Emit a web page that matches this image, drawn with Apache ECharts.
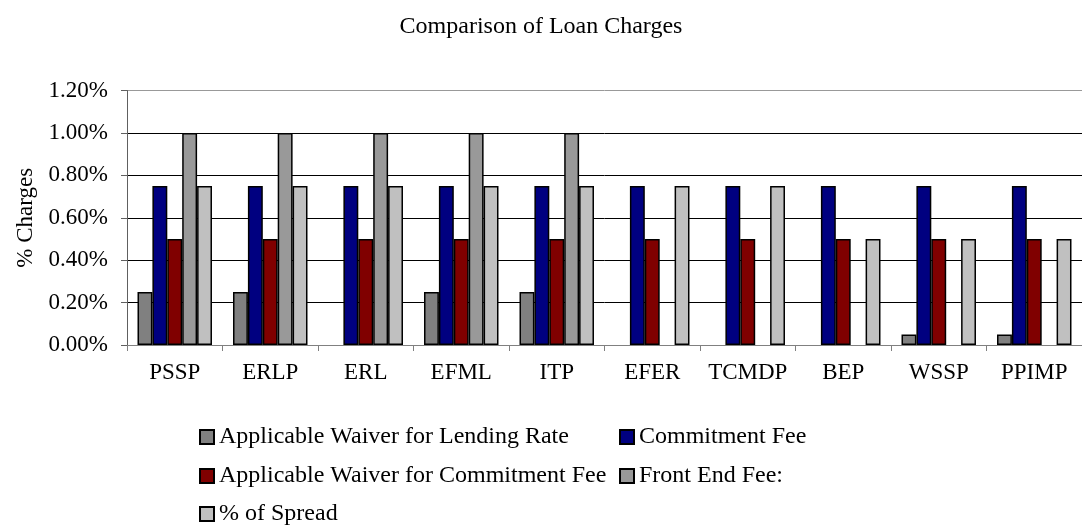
<!DOCTYPE html>
<html>
<head>
<meta charset="utf-8">
<script src="https://cdn.jsdelivr.net/npm/echarts@6/dist/echarts.min.js"></script>
<style>
  html, body { margin: 0; padding: 0; background: #fff; }
  #chart { width: 1082px; height: 525px; }
</style>
</head>
<body>
<div id="chart"></div>
<script>
// 数据
const categories = ['PSSP', 'ERLP', 'ERL', 'EFML', 'ITP', 'EFER', 'TCMDP', 'BEP', 'WSSP', 'PPIMP']
const waiverLending = [0.25, 0.25, 0, 0.25, 0.25, 0, 0, 0, 0.05, 0.05]
const commitmentFee = [0.75, 0.75, 0.75, 0.75, 0.75, 0.75, 0.75, 0.75, 0.75, 0.75]
const waiverCommitment = [0.5, 0.5, 0.5, 0.5, 0.5, 0.5, 0.5, 0.5, 0.5, 0.5]
const frontEndFee = [1, 1, 1, 1, 1, 0, 0, 0, 0, 0]
const spread = [0.75, 0.75, 0.75, 0.75, 0.75, 0.75, 0.75, 0.5, 0.5, 0.5]
const seriesNames = ['Applicable Waiver for Lending Rate', 'Commitment Fee',
  'Applicable Waiver for Commitment Fee', 'Front End Fee:', '% of Spread']
const seriesColors = ['#808080', '#000080', '#800000', '#999999', '#c0c0c0']
const seriesData = [waiverLending, commitmentFee, waiverCommitment, frontEndFee, spread]

const font = 'Liberation Serif, Times New Roman, serif'

const chart = echarts.init(document.getElementById('chart'))

// 图例位置（两列）
const legendPos = [[199, 425], [619, 425], [199, 464], [619, 464], [199, 502]]

const option = {
  animation: false,
  title: {
    text: 'Comparison of Loan Charges',
    left: 'center',
    top: 10,
    textStyle: { fontFamily: font, fontSize: 24, fontWeight: 'normal', color: '#000' }
  },
  legend: seriesNames.map((name, i) => ({
    data: [name],
    left: legendPos[i][0],
    top: legendPos[i][1],
    padding: 0,
    itemWidth: 14,
    itemHeight: 14,
    icon: 'rect',
    selectedMode: false,
    textStyle: { fontFamily: font, fontSize: 24, color: '#000', lineHeight: 24 }
  })),
  grid: {
    left: 127,
    right: -12,
    top: 90.5,
    bottom: 180
  },
  xAxis: {
    type: 'category',
    data: categories,
    axisLine: { lineStyle: { color: '#808080' } },
    axisTick: { show: true, length: 6, lineStyle: { color: '#808080' } },
    axisLabel: { fontFamily: font, fontSize: 23, color: '#000', margin: 16, interval: 0 }
  },
  yAxis: {
    type: 'value',
    min: 0,
    max: 1.2,
    interval: 0.2,
    name: '% Charges',
    nameLocation: 'middle',
    nameGap: 85,
    nameTextStyle: { fontFamily: font, fontSize: 23, color: '#000' },
    axisLine: { show: true, lineStyle: { color: '#606060' } },
    axisTick: { show: true, length: 6, lineStyle: { color: '#606060' } },
    axisLabel: {
      fontFamily: font, fontSize: 23, color: '#000', margin: 19,
      formatter: v => v.toFixed(2) + '%'
    },
    splitLine: {
      lineStyle: { color: ['#808080', '#000', '#000', '#000', '#000', '#000', '#999'], width: 1 }
    }
  },
  series: seriesNames.map((name, i) => ({
    name: name,
    type: 'bar',
    // 0值不画柱子
    data: seriesData[i].map(v => (v === 0 ? null : v)),
    barGap: '0%',
    barCategoryGap: '22%',
    itemStyle: { color: seriesColors[i], borderColor: '#000', borderWidth: 1.5 }
  }))
}

chart.setOption(option)
</script>
</body>
</html>
